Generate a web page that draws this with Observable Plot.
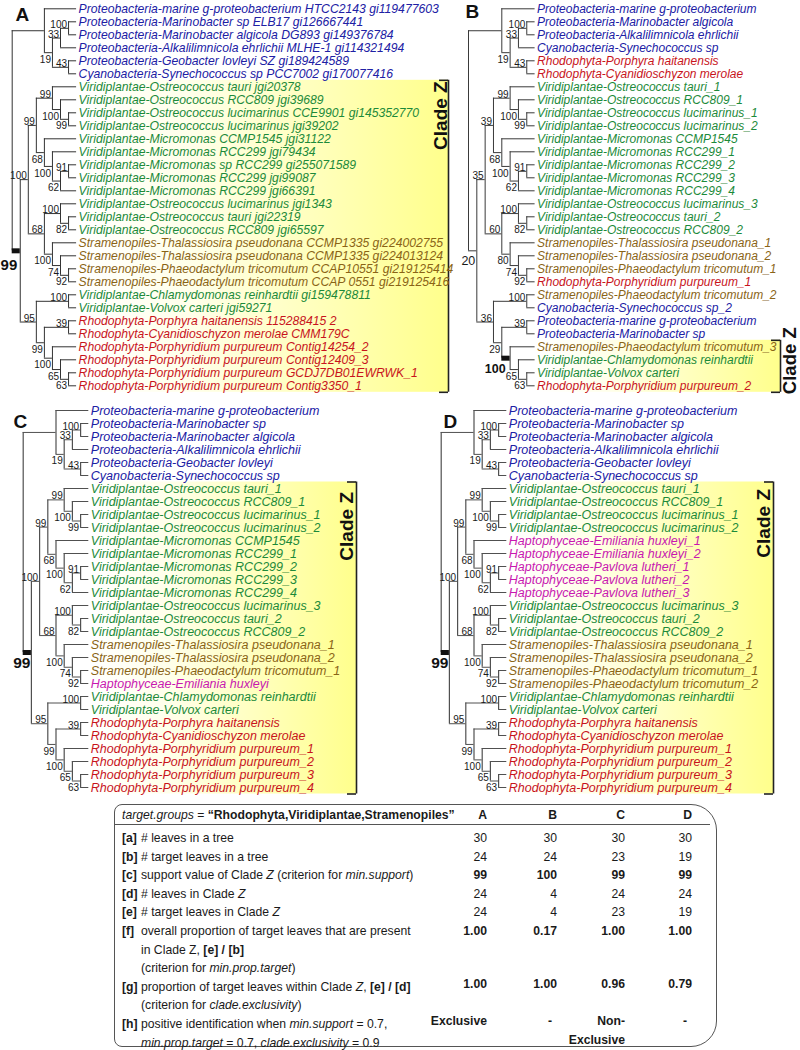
<!DOCTYPE html>
<html><head><meta charset="utf-8">
<script src="https://cdn.jsdelivr.net/npm/d3@7"></script>
<script src="https://cdn.jsdelivr.net/npm/@observablehq/plot@0.6"></script>
<style>
body{margin:0;background:#fff;}
#page{position:relative;width:800px;height:1050px;overflow:hidden;font-family:"Liberation Sans",Arial,sans-serif;color:#1a1a1a;}
.panel{position:absolute;}
.panel svg{overflow:visible;background:none !important;}
#tbox{position:absolute;left:114px;top:804px;width:603px;height:243px;border:1px solid #555;border-radius:8px 26px 26px 8px;box-sizing:border-box;}
.tl{position:absolute;font-size:12.2px;line-height:14px;white-space:nowrap;}
.tv{position:absolute;font-size:12.2px;line-height:14px;white-space:nowrap;text-align:right;}
#hline{position:absolute;left:114px;top:824px;width:596px;height:0;border-top:1px solid #555;}
</style></head><body><div id="page"></div>
<script>
// ---------- tree data (Newick topology with support values; ^ = label above, * = Clade Z, + = large label)
const treeA = "((0,(((1,2)100,3)33,(4,5)43^)19),((((6,(7,(8,9)99)100)99,(10,(11,((12,13)91,14)62)100)68)99,((15,(16,17)82)100,(18,(19,(20,21)92)74)100)68^)100,((22,23)100,((24,25)39,(26,(27,(28,29)63)65)100)99)95^)99*)";
const treeB = "((0,(((1,2)100,3)33,(4,5)43^)19),((((6,(7,(8,9)99)100)99,(10,(11,((12,13)91,14)62)100)68)39,((15,(16,17)82)100,(18,(19,(20,21)92)74)80)60^)35,((22,23)100,((24,25)39,(26,(27,(28,29)63)65)100*)29)36^)20+)";
const treeC = treeA;
const treeD = treeA;

const leavesA = [
"Proteobacteria-marine g-proteobacterium HTCC2143 gi119477603",
"Proteobacteria-Marinobacter sp ELB17 gi126667441",
"Proteobacteria-Marinobacter algicola DG893 gi149376784",
"Proteobacteria-Alkalilimnicola ehrlichii MLHE-1 gi114321494",
"Proteobacteria-Geobacter lovleyi SZ gi189424589",
"Cyanobacteria-Synechococcus sp PCC7002 gi170077416",
"Viridiplantae-Ostreococcus tauri jgi20378",
"Viridiplantae-Ostreococcus RCC809 jgi39689",
"Viridiplantae-Ostreococcus lucimarinus CCE9901 gi145352770",
"Viridiplantae-Ostreococcus lucimarinus jgi39202",
"Viridiplantae-Micromonas CCMP1545 jgi31122",
"Viridiplantae-Micromonas RCC299 jgi79434",
"Viridiplantae-Micromonas sp RCC299 gi255071589",
"Viridiplantae-Micromonas RCC299 jgi99087",
"Viridiplantae-Micromonas RCC299 jgi66391",
"Viridiplantae-Ostreococcus lucimarinus jgi1343",
"Viridiplantae-Ostreococcus tauri jgi22319",
"Viridiplantae-Ostreococcus RCC809 jgi65597",
"Stramenopiles-Thalassiosira pseudonana CCMP1335 gi224002755",
"Stramenopiles-Thalassiosira pseudonana CCMP1335 gi224013124",
"Stramenopiles-Phaeodactylum tricomutum CCAP10551 gi219125414",
"Stramenopiles-Phaeodactylum tricomutum CCAP 0551 gi219125416",
"Viridiplantae-Chlamydomonas reinhardtii gi159478811",
"Viridiplantae-Volvox carteri jgi59271",
"Rhodophyta-Porphyra haitanensis 115288415 2",
"Rhodophyta-Cyanidioschyzon merolae CMM179C",
"Rhodophyta-Porphyridium purpureum Contig14254_2",
"Rhodophyta-Porphyridium purpureum Contig12409_3",
"Rhodophyta-Porphyridium purpureum GCDJ7DB01EWRWK_1",
"Rhodophyta-Porphyridium purpureum Contig3350_1"];

const leavesB = [
"Proteobacteria-marine g-proteobacterium",
"Proteobacteria-Marinobacter algicola",
"Proteobacteria-Alkalilimnicola ehrlichii",
"Cyanobacteria-Synechococcus sp",
"Rhodophyta-Porphyra haitanensis",
"Rhodophyta-Cyanidioschyzon merolae",
"Viridiplantae-Ostreococcus tauri_1",
"Viridiplantae-Ostreococcus RCC809_1",
"Viridiplantae-Ostreococcus lucimarinus_1",
"Viridiplantae-Ostreococcus lucimarinus_2",
"Viridiplantae-Micromonas CCMP1545",
"Viridiplantae-Micromonas RCC299_1",
"Viridiplantae-Micromonas RCC299_2",
"Viridiplantae-Micromonas RCC299_3",
"Viridiplantae-Micromonas RCC299_4",
"Viridiplantae-Ostreococcus lucimarinus_3",
"Viridiplantae-Ostreococcus tauri_2",
"Viridiplantae-Ostreococcus RCC809_2",
"Stramenopiles-Thalassiosira pseudonana_1",
"Stramenopiles-Thalassiosira pseudonana_2",
"Stramenopiles-Phaeodactylum tricomutum_1",
"Rhodophyta-Porphyridium purpureum_1",
"Stramenopiles-Phaeodactylum tricomutum_2",
"Cyanobacteria-Synechococcus sp_2",
"Proteobacteria-marine g-proteobacterium",
"Proteobacteria-Marinobacter sp",
"Stramenopiles-Phaeodactylum tricomutum_3",
"Viridiplantae-Chlamydomonas reinhardtii",
"Viridiplantae-Volvox carteri",
"Rhodophyta-Porphyridium purpureum_2"];

const leavesC = [
"Proteobacteria-marine g-proteobacterium",
"Proteobacteria-Marinobacter sp",
"Proteobacteria-Marinobacter algicola",
"Proteobacteria-Alkalilimnicola ehrlichii",
"Proteobacteria-Geobacter lovleyi",
"Cyanobacteria-Synechococcus sp",
"Viridiplantae-Ostreococcus tauri_1",
"Viridiplantae-Ostreococcus RCC809_1",
"Viridiplantae-Ostreococcus lucimarinus_1",
"Viridiplantae-Ostreococcus lucimarinus_2",
"Viridiplantae-Micromonas CCMP1545",
"Viridiplantae-Micromonas RCC299_1",
"Viridiplantae-Micromonas RCC299_2",
"Viridiplantae-Micromonas RCC299_3",
"Viridiplantae-Micromonas RCC299_4",
"Viridiplantae-Ostreococcus lucimarinus_3",
"Viridiplantae-Ostreococcus tauri_2",
"Viridiplantae-Ostreococcus RCC809_2",
"Stramenopiles-Thalassiosira pseudonana_1",
"Stramenopiles-Thalassiosira pseudonana_2",
"Stramenopiles-Phaeodactylum tricomutum_1",
"Haptophyceae-Emiliania huxleyi",
"Viridiplantae-Chlamydomonas reinhardtii",
"Viridiplantae-Volvox carteri",
"Rhodophyta-Porphyra haitanensis",
"Rhodophyta-Cyanidioschyzon merolae",
"Rhodophyta-Porphyridium purpureum_1",
"Rhodophyta-Porphyridium purpureum_2",
"Rhodophyta-Porphyridium purpureum_3",
"Rhodophyta-Porphyridium purpureum_4"];

const leavesD = [
"Proteobacteria-marine g-proteobacterium",
"Proteobacteria-Marinobacter sp",
"Proteobacteria-Marinobacter algicola",
"Proteobacteria-Alkalilimnicola ehrlichii",
"Proteobacteria-Geobacter lovleyi",
"Cyanobacteria-Synechococcus sp",
"Viridiplantae-Ostreococcus tauri_1",
"Viridiplantae-Ostreococcus RCC809_1",
"Viridiplantae-Ostreococcus lucimarinus_1",
"Viridiplantae-Ostreococcus lucimarinus_2",
"Haptophyceae-Emiliania huxleyi_1",
"Haptophyceae-Emiliania huxleyi_2",
"Haptophyceae-Pavlova lutheri_1",
"Haptophyceae-Pavlova lutheri_2",
"Haptophyceae-Pavlova lutheri_3",
"Viridiplantae-Ostreococcus lucimarinus_3",
"Viridiplantae-Ostreococcus tauri_2",
"Viridiplantae-Ostreococcus RCC809_2",
"Stramenopiles-Thalassiosira pseudonana_1",
"Stramenopiles-Thalassiosira pseudonana_2",
"Stramenopiles-Phaeodactylum tricomutum_1",
"Stramenopiles-Phaeodactylum tricomutum_2",
"Viridiplantae-Chlamydomonas reinhardtii",
"Viridiplantae-Volvox carteri",
"Rhodophyta-Porphyra haitanensis",
"Rhodophyta-Cyanidioschyzon merolae",
"Rhodophyta-Porphyridium purpureum_1",
"Rhodophyta-Porphyridium purpureum_2",
"Rhodophyta-Porphyridium purpureum_3",
"Rhodophyta-Porphyridium purpureum_4"];

const cladeZLeaves = {A:[6,29], B:[26,29], C:[6,29], D:[6,29]};

// ---------- table data
const tableCols = ["A","B","C","D"];
const leavesInTree = [30,30,30,30];
const targetInTree = [24,24,23,19];
const supportZ = [99,100,99,99];
const leavesInZ = [24,4,24,24];
const targetInZ = [24,4,23,19];
const propTarget = ["1.00","0.17","1.00","1.00"];
const exclusivity = ["1.00","1.00","0.96","0.79"];
const identification = [["Exclusive"],["-"],["Non-","Exclusive"],["-"]];
const rowKeys = ["[a]","[b]","[c]","[d]","[e]","[f]","[g]","[h]"];
const rowLabels = [
 ["# leaves in a tree"],
 ["# target leaves in a tree"],
 ["support value of Clade <i>Z</i> (criterion for <i>min.support</i>)"],
 ["# leaves in Clade <i>Z</i>"],
 ["# target leaves in Clade <i>Z</i>"],
 ["overall proportion of target leaves that are present","in Clade Z, <b>[e] / [b]</b>","(criterion for <i>min.prop.target</i>)"],
 ["proportion of target leaves within Clade <i>Z</i>, <b>[e] / [d]</b>","(criterion for <i>clade.exclusivity</i>)"],
 ["positive identification when <i>min.support</i> = 0.7,","<i>min.prop.target</i> = 0.7, <i>clade.exclusivity</i> = 0.9"]
];

// ---------- colours
const groupColor = {Proteobacteria:"#2020a4",Cyanobacteria:"#2020a4",Viridiplantae:"#1c8a3a",Stramenopiles:"#8a6416",Rhodophyta:"#c8141c",Haptophyceae:"#c818b0"};

// ---------- tree parsing / layout
function parse(s){
  let i=0;
  function tok(){let t="";while(i<s.length && !",()".includes(s[i])) t+=s[i++];return t;}
  function node(){
    if(s[i]==="("){
      i++; const children=[node()];
      while(s[i]===","){i++;children.push(node());}
      i++;
      const t=tok(); const m=t.match(/^(\d*)(.*)$/);
      return {children, support:m[1], flags:m[2]};
    }
    return {leaf:+tok()};
  }
  return node();
}
function layout(newick){
  const root=parse(newick);
  const ht=n=>(n.h=n.children?1+Math.max(...n.children.map(ht)):0);
  const H=ht(root);
  const place=(n,p,last)=>{
    n.parent=p; n.last=last; n.level=n.children?H-n.h:H;
    if(n.children){n.children.forEach((c,k)=>place(c,n,k===n.children.length-1));
      n.y=(n.children[0].y+n.children[n.children.length-1].y)/2;}
    else n.y=n.leaf;
  };
  place(root,null,false);
  const hs=[],vs=[],sup=[],lv=[];
  (function walk(n){
    if(n.parent) hs.push({x1:n.parent.level,x2:n.level,y:n.y,thick:!!(n.flags&&n.flags.includes("*"))});
    if(n.children){
      vs.push({x:n.level,y1:n.children[0].y,y2:n.children[n.children.length-1].y});
      if(n.support) sup.push({x:n.level,y:n.y,text:n.support,below:n.last&&!n.flags.includes("^"),bold:n.flags.includes("*"),big:n.flags.includes("+")});
      n.children.forEach(walk);
    } else lv.push(n);
  })(root);
  return {H,hs,vs,sup,lv};
}

const panels=[
 {id:"A",tree:treeA,leaves:leavesA,left:0,top:0,w:455,h:397,rootX:11.7,tipX:76.1,y0:8.3,bracketX:448,zDx:-1.5,zDy:1,boldSize:15,boldDx:-3,boldDy:9,lx:15,ly:20,lineColor:"#333",lw:1,fs:12.2},
 {id:"B",tree:treeB,leaves:leavesB,left:455,top:0,w:345,h:397,rootX:13,tipX:79.6,y0:8.3,bracketX:325,zDx:15.5,zDy:-13,boldSize:12.5,boldDx:-4.5,boldDy:6,lx:10,ly:17,lineColor:"#3a3a3a",lw:1,fs:12.0},
 {id:"C",tree:treeC,leaves:leavesC,left:0,top:397,w:400,h:400,rootX:22.7,tipX:88.3,y0:13,bracketX:356,zDx:-3.5,zDy:10,boldSize:15.5,boldDx:-1,boldDy:4.5,lx:13,ly:30,lineColor:"#505050",lw:1.2,fs:12.5},
 {id:"D",tree:treeD,leaves:leavesD,left:400,top:397,w:400,h:400,rootX:40.7,tipX:106.3,y0:13,bracketX:373,zDx:-4,zDy:7,boldSize:15.5,boldDx:-1,boldDy:4.5,lx:43,ly:30,lineColor:"#505050",lw:1.2,fs:12.5}
];

const page=document.getElementById("page");
const FONT='"Liberation Sans", Arial, sans-serif';

for(const P of panels){
  const L=layout(P.tree);
  const step=(P.tipX-P.rootX)/L.H;
  const lvl=px=>(px-P.rootX)/step;
  const [z0,z1]=cladeZLeaves[P.id];
  const box=[{x1:lvl(P.tipX+1),x2:lvl(P.bracketX),y1:z0-0.5,y2:z1+0.5}];
  const bx=lvl(P.bracketX), tick=9/step;
  const leafData=L.lv.map(n=>({x:L.H,y:n.y,name:P.leaves[n.leaf]}));
  const supA=L.sup.filter(d=>!d.below&&!d.bold), supB=L.sup.filter(d=>d.below&&!d.bold&&!d.big);
  const supBig=L.sup.filter(d=>d.big), supBold=L.sup.filter(d=>d.bold);
  const chart=Plot.plot({
    width:P.w,height:P.h,margin:0,
    x:{domain:[0,L.H],range:[P.rootX,P.tipX],axis:null},
    y:{domain:[0,29],range:[P.y0,P.y0+29*13],axis:null},
    style:{fontFamily:FONT,background:"transparent",overflow:"visible"},
    marks:[
      Plot.rect(box,{x1:"x1",x2:"x2",y1:"y1",y2:"y2",fill:`url(#grad${P.id})`}),
      Plot.ruleX(box,{x:"x2",y1:"y1",y2:"y2",stroke:"#222",strokeWidth:1.6}),
      Plot.ruleY(box,{y:"y1",x1:d=>d.x2-tick,x2:"x2",stroke:"#222",strokeWidth:1.6}),
      Plot.ruleY(box,{y:"y2",x1:d=>d.x2-tick,x2:"x2",stroke:"#222",strokeWidth:1.6}),
      Plot.ruleX(L.vs,{x:"x",y1:"y1",y2:"y2",stroke:P.lineColor,strokeWidth:P.lw}),
      Plot.ruleY(L.hs.filter(d=>!d.thick),{y:"y",x1:"x1",x2:"x2",stroke:P.lineColor,strokeWidth:1}),
      Plot.ruleY(L.hs.filter(d=>d.thick),{y:"y",x1:"x1",x2:"x2",stroke:"#111",strokeWidth:5}),
      Plot.text(leafData,{x:"x",y:"y",text:"name",dx:2,textAnchor:"start",fontSize:P.fs,fontStyle:"italic",
        fill:d=>groupColor[d.name.split("-")[0]]}),
      Plot.text(supA,{x:"x",y:"y",text:"text",textAnchor:"end",lineAnchor:"bottom",dx:-1.5,dy:-0.5,fontSize:10,fill:"#1a1a1a"}),
      Plot.text(supB,{x:"x",y:"y",text:"text",textAnchor:"end",lineAnchor:"top",dx:-1.5,dy:3,fontSize:10,fill:"#1a1a1a"}),
      Plot.text(supBig,{x:"x",y:"y",text:"text",textAnchor:"end",lineAnchor:"top",dx:-1.5,dy:5,fontSize:12.5,fill:"#1a1a1a"}),
      Plot.text(supBold,{x:"x",y:"y",text:"text",textAnchor:"end",lineAnchor:"top",dx:P.boldDx,dy:P.boldDy,fontSize:P.boldSize,fontWeight:"bold",fill:"#111"}),
      Plot.text(["Clade Z"],{x:()=>bx,y:()=>z0-0.5,text:d=>d,rotate:-90,textAnchor:"end",lineAnchor:"bottom",dx:P.zDx,dy:P.zDy,fontSize:P.id==="B"?18.5:19,fontWeight:"bold",fill:"#111"}),
      Plot.text([P.id],{frameAnchor:"top-left",text:d=>d,dx:P.lx,dy:P.ly,lineAnchor:"bottom",textAnchor:"start",fontSize:19,fontWeight:"bold",fill:"#111"})
    ]
  });
  const defs=d3.select(chart).insert("defs",":first-child");
  const g=defs.append("linearGradient").attr("id",`grad${P.id}`).attr("x1",0).attr("x2",1).attr("y1",0).attr("y2",0);
  g.append("stop").attr("offset","0").attr("stop-color","#ffffff");
  g.append("stop").attr("offset","0.3").attr("stop-color","#ffffea");
  g.append("stop").attr("offset","1").attr("stop-color","#ffff8c");
  const div=document.createElement("div");
  div.className="panel";div.style.left=P.left+"px";div.style.top=P.top+"px";
  div.appendChild(chart);page.appendChild(div);
}

// ---------- table
const T=d3.select(page);
T.append("div").attr("id","tbox");
T.append("div").attr("id","hline");
const colRight=[487,557,625,692];
const lineY=k=>838+18.6*k;
T.append("div").attr("class","tl").style("left","122px").style("top",(815-7)+"px")
  .html('<i>target.groups</i> = <b>\u201cRhodophyta,Viridiplantae,Stramenopiles\u201d</b>');
tableCols.forEach((c,j)=>T.append("div").attr("class","tv").style("font-weight","bold")
  .style("left",(colRight[j]-60)+"px").style("width","60px").style("top",(815-7)+"px").text(c));
const rowStart=[0,1,2,3,4,5,8,10];
rowLabels.forEach((lines,r)=>{
  T.append("div").attr("class","tl").style("font-weight","bold").style("left","122px").style("top",(lineY(rowStart[r])-7)+"px").text(rowKeys[r]);
  lines.forEach((t,k)=>{
    T.append("div").attr("class","tl").style("left","141px").style("top",(lineY(rowStart[r]+k)-7)+"px").html(t);
  });
});
const valueRows=[[leavesInTree,false],[targetInTree,false],[supportZ,true],[leavesInZ,false],[targetInZ,false],[propTarget,true],[exclusivity,true],[identification,true]];
valueRows.forEach(([vals,bold],r)=>vals.forEach((v,j)=>{
  const lines=Array.isArray(v)?v:[v];
  lines.forEach((t,k)=>{
    const dash=t==="-";
    T.append("div").attr("class","tv").style("font-weight",bold?"bold":"normal")
     .style("left",(colRight[j]-90-(dash?5:0))+"px").style("width","90px")
     .style("top",(lineY(rowStart[r]+k)-(r===6?10:7)-(r===7?3:0))+"px").text(t);
  });
}));
</script></body></html>
